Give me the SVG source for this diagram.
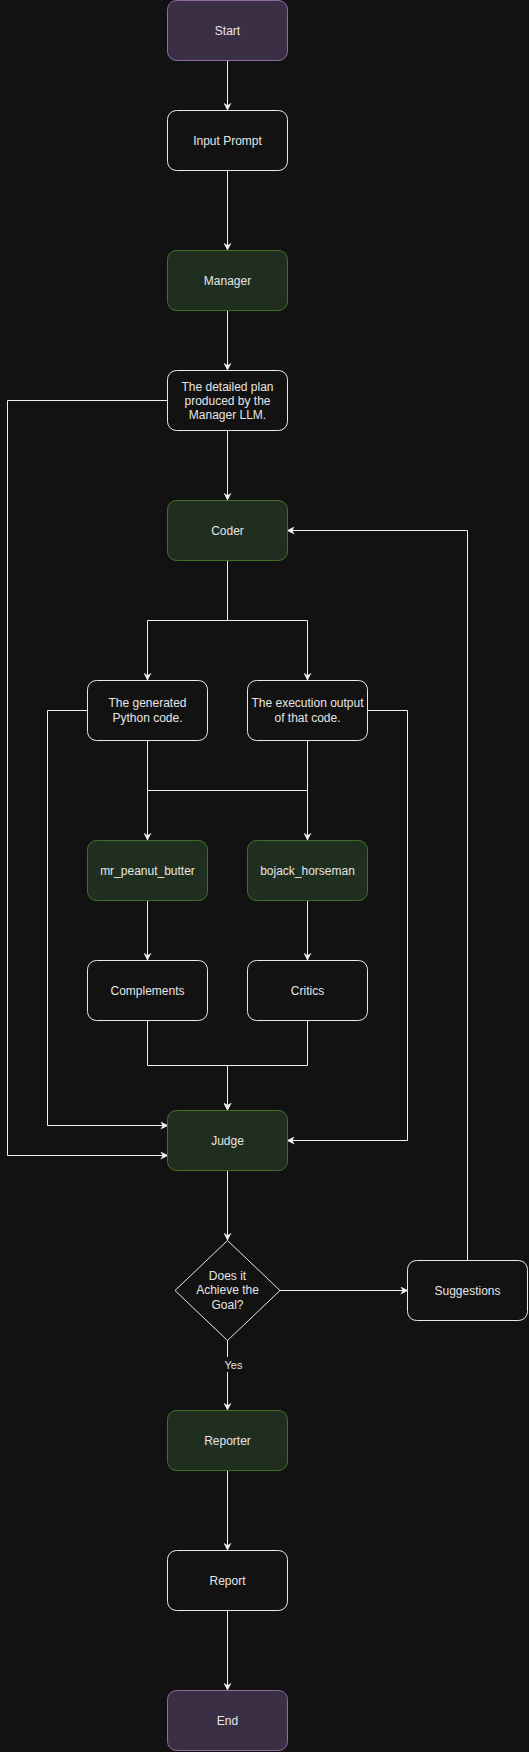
<svg xmlns="http://www.w3.org/2000/svg" width="529" height="1752" viewBox="0 0 529 1752">
<defs>
<marker id="arr" viewBox="0 0 10 10" refX="9" refY="5" markerWidth="8" markerHeight="8" markerUnits="userSpaceOnUse" orient="auto">
<path d="M0,0 L10,5 L0,10 L3,5 Z" fill="#f0f0f0"/>
</marker>
<style>
.bg{fill:#121212}
.plain{fill:#121212;stroke:#e8e8e8;stroke-width:1}
.purple{fill:#3a2f45;stroke:#8e6c9e;stroke-width:1}
.green{fill:#1f2e1f;stroke:#437029;stroke-width:1}
.t{font-family:"Liberation Sans",Arial,sans-serif;font-size:12px;fill:#e6e6e6;text-anchor:middle}
.c{fill:none;stroke:#f0f0f0;stroke-width:1;marker-end:url(#arr)}
.cl{fill:none;stroke:#f0f0f0;stroke-width:1}
</style>
</defs>
<rect class="bg" x="0" y="0" width="529" height="1752"/>
<g id="connectors">
<path class="c" d="M227.5,60.5 V110"/>
<path class="c" d="M227.5,170 V250"/>
<path class="c" d="M227.5,310 V370"/>
<path class="c" d="M227.5,430 V500"/>
<path class="c" d="M227.5,560 V620.5 H147.5 V680"/>
<path class="c" d="M227.5,560 V620.5 H307.5 V680"/>
<path class="c" d="M147.5,740 V790.5 H307.5 V840"/>
<path class="c" d="M307.5,740 V790.5 H147.5 V840"/>
<path class="c" d="M147.5,900 V960"/>
<path class="c" d="M307.5,900 V960"/>
<path class="c" d="M147.5,1020 V1065.5 H227.5 V1110"/>
<path class="c" d="M307.5,1020 V1065.5 H227.5 V1110"/>
<path class="c" d="M87.5,710.5 H47.5 V1125.5 H167.5"/>
<path class="c" d="M367.5,710.5 H407.5 V1140.5 H287.5"/>
<path class="c" d="M167.5,400.5 H7.5 V1155.5 H167.5"/>
<path class="c" d="M227.5,1170 V1240"/>
<path class="c" d="M280,1290.5 H407.5"/>
<path class="c" d="M467.5,1260 V530.5 H287.5"/>
<path class="c" d="M227.5,1340 V1410"/>
<path class="c" d="M227.5,1470 V1550"/>
<path class="c" d="M227.5,1610 V1690"/>
<rect class="bg" x="222" y="1357" width="24" height="15"/>
<text class="t" x="233.5" y="1368.5" style="font-size:11px">Yes</text>
</g>
<g id="start"><rect class="purple" x="167.5" y="0.5" width="120" height="60" rx="9"/><text class="t" x="227.5" y="34.5">Start</text></g>
<g id="input"><rect class="plain" x="167.5" y="110.5" width="120" height="60" rx="9"/><text class="t" x="227.5" y="144.5">Input Prompt</text></g>
<g id="manager"><rect class="green" x="167.5" y="250.5" width="120" height="60" rx="9"/><text class="t" x="227.5" y="284.5">Manager</text></g>
<g id="plan"><rect class="plain" x="167.5" y="370.5" width="120" height="60" rx="9"/><text class="t" x="227.5" y="390.5">The detailed plan</text><text class="t" x="227.5" y="404.5">produced by the</text><text class="t" x="227.5" y="418.5">Manager LLM.</text></g>
<g id="coder"><rect class="green" x="167.5" y="500.5" width="120" height="60" rx="9"/><text class="t" x="227.5" y="534.5">Coder</text></g>
<g id="code"><rect class="plain" x="87.5" y="680.5" width="120" height="60" rx="9"/><text class="t" x="147.5" y="707">The generated</text><text class="t" x="147.5" y="722">Python code.</text></g>
<g id="output"><rect class="plain" x="247.5" y="680.5" width="120" height="60" rx="9"/><text class="t" x="307.5" y="707">The execution output</text><text class="t" x="307.5" y="722">of that code.</text></g>
<g id="peanut"><rect class="green" x="87.5" y="840.5" width="120" height="60" rx="9"/><text class="t" x="147.5" y="874.5">mr_peanut_butter</text></g>
<g id="bojack"><rect class="green" x="247.5" y="840.5" width="120" height="60" rx="9"/><text class="t" x="307.5" y="874.5">bojack_horseman</text></g>
<g id="complements"><rect class="plain" x="87.5" y="960.5" width="120" height="60" rx="9"/><text class="t" x="147.5" y="994.5">Complements</text></g>
<g id="critics"><rect class="plain" x="247.5" y="960.5" width="120" height="60" rx="9"/><text class="t" x="307.5" y="994.5">Critics</text></g>
<g id="judge"><rect class="green" x="167.5" y="1110.5" width="120" height="60" rx="9"/><text class="t" x="227.5" y="1144.5">Judge</text></g>
<g id="decision"><path class="plain" d="M227.5,1240.5 L280,1290.5 L227.5,1340.5 L175,1290.5 Z"/><text class="t" x="227.5" y="1280">Does it</text><text class="t" x="227.5" y="1294">Achieve the</text><text class="t" x="227.5" y="1308.5">Goal?</text></g>
<g id="suggestions"><rect class="plain" x="407.5" y="1260.5" width="120" height="60" rx="9"/><text class="t" x="467.5" y="1294.5">Suggestions</text></g>
<g id="reporter"><rect class="green" x="167.5" y="1410.5" width="120" height="60" rx="9"/><text class="t" x="227.5" y="1444.5">Reporter</text></g>
<g id="report"><rect class="plain" x="167.5" y="1550.5" width="120" height="60" rx="9"/><text class="t" x="227.5" y="1584.5">Report</text></g>
<g id="end"><rect class="purple" x="167.5" y="1690.5" width="120" height="60" rx="9"/><text class="t" x="227.5" y="1724.5">End</text></g>
</svg>
